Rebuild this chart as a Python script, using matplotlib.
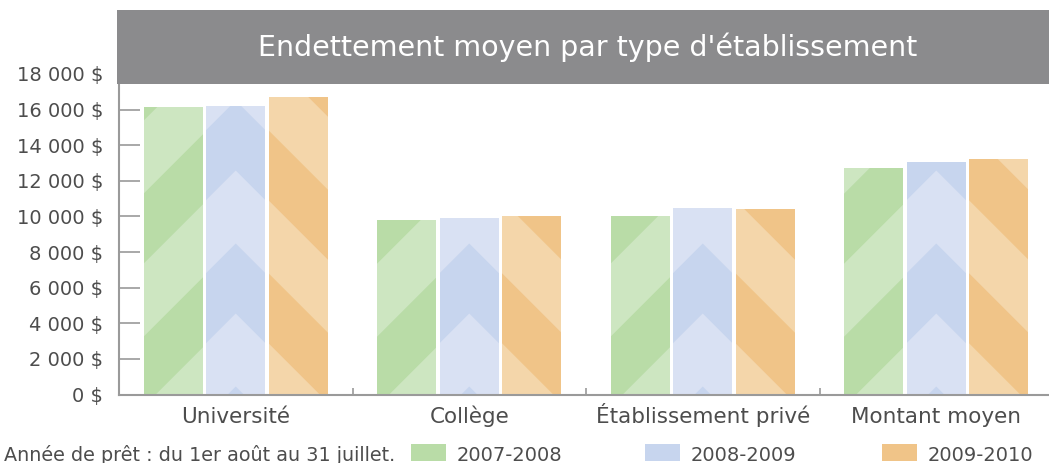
import matplotlib.pyplot as plt
from matplotlib.patches import Polygon, Rectangle
import numpy as np

# donnees
categories = ['Université', 'Collège', 'Établissement privé', 'Montant moyen']
annees = ['2007-2008', '2008-2009', '2009-2010']
v_2007 = [16150, 9800, 10000, 12700]
v_2008 = [16200, 9900, 10450, 13050]
v_2009 = [16700, 10000, 10400, 13250]
series = [v_2007, v_2008, v_2009]
yticks = [0, 2000, 4000, 6000, 8000, 10000, 12000, 14000, 16000, 18000]
note = 'Année de prêt : du 1er août au 31 juillet.'
titre = "Endettement moyen par type d'établissement"

clair = ['#cde6c1', '#d9e1f3', '#f4d6aa']
fonce = ['#b9dca7', '#c7d5ee', '#f0c488']
gris = '#9a9a9a'
texte = '#4d4d4d'

W, H = 1049, 463
plt.rcParams['font.family'] = ['DejaVu Sans']
fig = plt.figure(figsize=(W / 100, H / 100), dpi=100)

# axes en pixels
x0, y0, y_top = 119, 394.5, 74
ax = fig.add_axes([x0 / W, (H - y0) / H, (W - x0) / W, (y0 - y_top) / H])
ax.set_ylim(0, 18000)
sx = 233.5  # px par categorie
ax.set_xlim(-0.5, -0.5 + (W - x0) / sx)
sy = (y0 - y_top) / 18000.0  # px par dollar

larg = 59 / sx
pas = 62.5 / sx
periode, bande = 143, 70


def motif(ax, rect, i, xl, h):
    # bandes diagonales (vert /, bleu ^, orange \) en pixels locaux
    w = 59
    hp = h * sy
    for k in range(-2, int(hp / periode) + 3):
        if i == 0:
            a = -12 + periode * k
            u0, u1 = -10, w + 10
            pts = [(u0, u0 + a), (u1, u1 + a), (u1, u1 + a + bande), (u0, u0 + a + bande)]
        elif i == 1:
            a = 81 + periode * k
            D = 40
            c = w / 2
            pts = [(c - D, a - D), (c, a), (c + D, a - D),
                   (c + D, a + bande - D), (c, a + bande), (c - D, a + bande - D)]
        else:
            a = 51 + periode * k
            u0, u1 = -10, w + 10
            pts = [(u0, a - u0), (u1, a - u1), (u1, a + bande - u1), (u0, a + bande - u0)]
        pts = [(xl + u / sx, v / sy) for u, v in pts]
        p = Polygon(pts, closed=True, facecolor=fonce[i], edgecolor='none', zorder=3)
        ax.add_patch(p)
        p.set_clip_path(rect)


x = np.arange(len(categories))
for i, vals in enumerate(series):
    bars = ax.bar(x + (i - 1) * pas, vals, width=larg, color=clair[i], zorder=2)
    for rect, v in zip(bars, vals):
        motif(ax, rect, i, rect.get_x(), v)

# axes
for s in ['top', 'right']:
    ax.spines[s].set_visible(False)
for s in ['left', 'bottom']:
    ax.spines[s].set_color(gris)
    ax.spines[s].set_linewidth(1.5)
    ax.spines[s].set_zorder(4)

ax.set_yticks(yticks)
ax.set_yticklabels([f'{v:,} $'.replace(',', ' ') for v in yticks])
ax.tick_params(axis='y', direction='in', length=15, width=1.2, color=gris,
               pad=11.5, labelsize=14, labelcolor=texte)
ax.set_xticks(x)
ax.set_xticklabels(categories)
ax.tick_params(axis='x', length=0, pad=20.5, labelsize=15.5, labelcolor=texte)
for lbl in ax.get_xticklabels():
    lbl.set_va('baseline')
ax.set_xticks(x[:-1] + 0.5, minor=True)
ax.tick_params(axis='x', which='minor', direction='in', length=5, width=1.2, color=gris)

# bandeau du titre
fig.add_artist(Rectangle((117 / W, (H - 84) / H), (W - 117) / W, 74 / H,
                         transform=fig.transFigure, facecolor='#8b8b8d',
                         edgecolor='none', zorder=10))
fig.text(588 / W, 1 - 56 / H, titre, color='white', fontsize=20.5,
         ha='center', va='baseline', zorder=11)

# legende
fig.text(4 / W, 1 - 461 / H, note, color=texte, fontsize=13.8, va='baseline')
xs_carre = [411, 645, 882]
for i, an in enumerate(annees):
    fig.add_artist(Rectangle((xs_carre[i] / W, (H - 461) / H), 35 / W, 17 / H,
                             transform=fig.transFigure, facecolor=fonce[i],
                             edgecolor='none'))
    fig.text((xs_carre[i] + 46) / W, 1 - 461 / H, an, color=texte,
             fontsize=14, va='baseline')

fig.savefig('out.png', dpi=100)
